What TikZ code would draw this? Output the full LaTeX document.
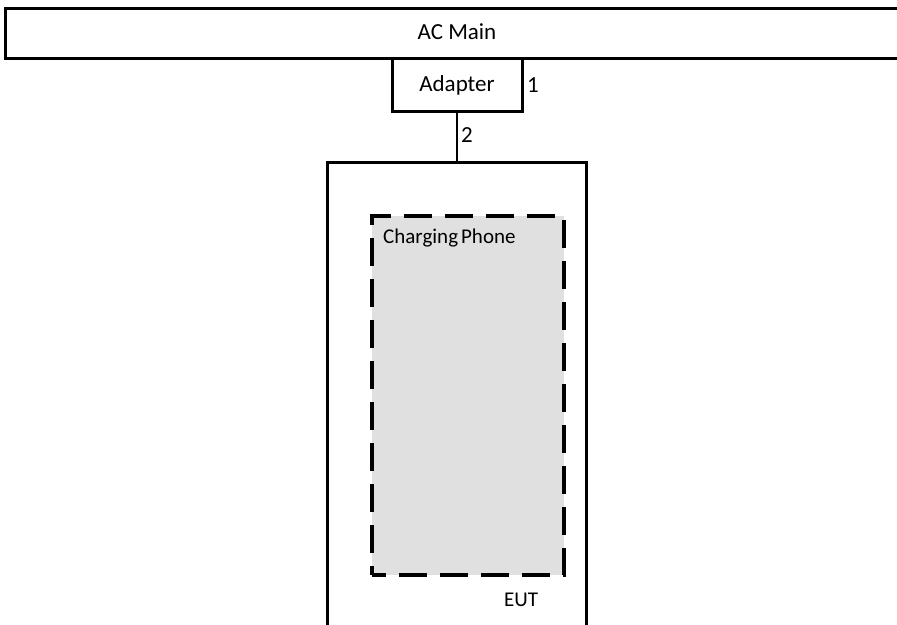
\documentclass[tikz,border=0pt]{standalone}
\usepackage{fontspec}
\setmainfont{Carlito}
\begin{document}
\begin{tikzpicture}[x=1pt,y=-1pt,
  box/.style={draw=black,line width=3pt,fill=white,inner sep=0pt},
  lbl/.style={font=\fontsize{21}{25}\selectfont,inner sep=0pt},
  biglbl/.style={font=\fontsize{23}{27}\selectfont,inner sep=0pt},
  phonebox/.style={draw=black,line width=3.6pt,fill=black!12,dash pattern=on 28pt off 13pt,dash phase=14pt,inner sep=0pt},
  wire/.style={draw=black,line width=1.8pt}]
\useasboundingbox (0,0) rectangle (897,624);
% AC main bar (extends past the right edge)
\node[box,minimum width=900pt,minimum height=50pt,anchor=north west] (acmain) at (4,7) {};
\node[biglbl] (aclabel) at (457,32) {AC Main};
% EUT box (open past the bottom edge)
\node[box,minimum width=259pt,minimum height=540pt,anchor=north] (eut) at (457,161) {};
% Adapter
\node[box,minimum width=130pt,minimum height=53pt,anchor=north] (adapter) at (457,57) {};
\node[biglbl] (adlabel) at (457,85) {Adapter};
\node[biglbl,anchor=west] (one) at (527,85) {1};
% cable 2
\draw[wire] (adapter.south) -- (eut.north);
\node[biglbl,anchor=west] (two) at (461,135) {2};
% charging phone
\node[phonebox,minimum width=192pt,minimum height=359pt,anchor=north west] (phone) at (370,214) {};
\node[lbl,anchor=west] (phonelabel) at (383,238) {Charging\hspace{3pt}Phone};
\node[lbl] (eutlabel) at (521,600) {EUT};
\end{tikzpicture}
\end{document}
